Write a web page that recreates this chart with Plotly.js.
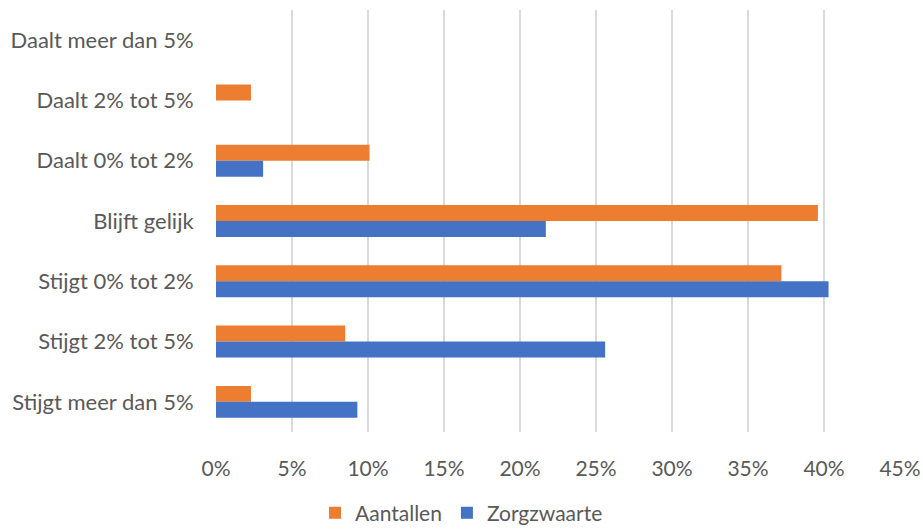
<!DOCTYPE html>
<html>
<head>
<meta charset="utf-8">
<script src="https://cdn.plot.ly/plotly-3.0.1.min.js"></script>
<style>html,body{margin:0;padding:0;background:#fff;}#chart{width:923px;height:529px;}</style>
</head>
<body>
<div id="chart"></div>
<script>
const categories = ["Daalt meer dan 5%", "Daalt 2% tot 5%", "Daalt 0% tot 2%", "Blijft gelijk", "Stijgt 0% tot 2%", "Stijgt 2% tot 5%", "Stijgt meer dan 5%"];
const aantallen = [0, 0.023, 0.101, 0.396, 0.372, 0.085, 0.023];
const zorgzwaarte = [0, 0, 0.031, 0.217, 0.403, 0.256, 0.093];
const tickVals = [0, 0.05, 0.10, 0.15, 0.20, 0.25, 0.30, 0.35, 0.40, 0.45];
const tickText = ["0%", "5%", "10%", "15%", "20%", "25%", "30%", "35%", "40%", "45%"];

const font = "Lato, 'Open Sans', sans-serif";
const data = [
  {type: "bar", orientation: "h", name: "Aantallen", y: categories, x: aantallen,
   marker: {color: "#ED7D31"}, hoverinfo: "x+y"},
  {type: "bar", orientation: "h", name: "Zorgzwaarte", y: categories, x: zorgzwaarte,
   marker: {color: "#4472C4"}, hoverinfo: "x+y"}
];
const layout = {
  width: 923, height: 529,
  margin: {l: 216, r: 23, t: 10, b: 97},
  paper_bgcolor: "#fff", plot_bgcolor: "#fff",
  barmode: "group", bargap: 0.47, bargroupgap: 0,
  font: {family: font, size: 22, color: "#595959"},
  xaxis: {range: [0, 0.45], tickvals: tickVals, ticktext: tickText,
    showgrid: true, gridcolor: "#D9D9D9", gridwidth: 1.5, zeroline: false,
    showline: false, ticks: "outside", ticklen: 18, tickcolor: "rgba(0,0,0,0)",
    tickfont: {size: 21, color: "#595959"}, automargin: false},
  yaxis: {autorange: "reversed", type: "category", showgrid: false, zeroline: false,
    showline: false, ticks: "outside", ticklen: 17, tickcolor: "rgba(0,0,0,0)",
    tickfont: {size: 22, color: "#595959"}, automargin: false},
  legend: {orientation: "h", x: 0.5, xanchor: "center", xref: "container",
    y: 0.03, yanchor: "middle", yref: "container",
    font: {size: 21, color: "#595959"}, itemwidth: 30, traceorder: "normal"},
  showlegend: true
};
Plotly.newPlot("chart", data, layout, {displayModeBar: false, staticPlot: true});
</script>
</body>
</html>
